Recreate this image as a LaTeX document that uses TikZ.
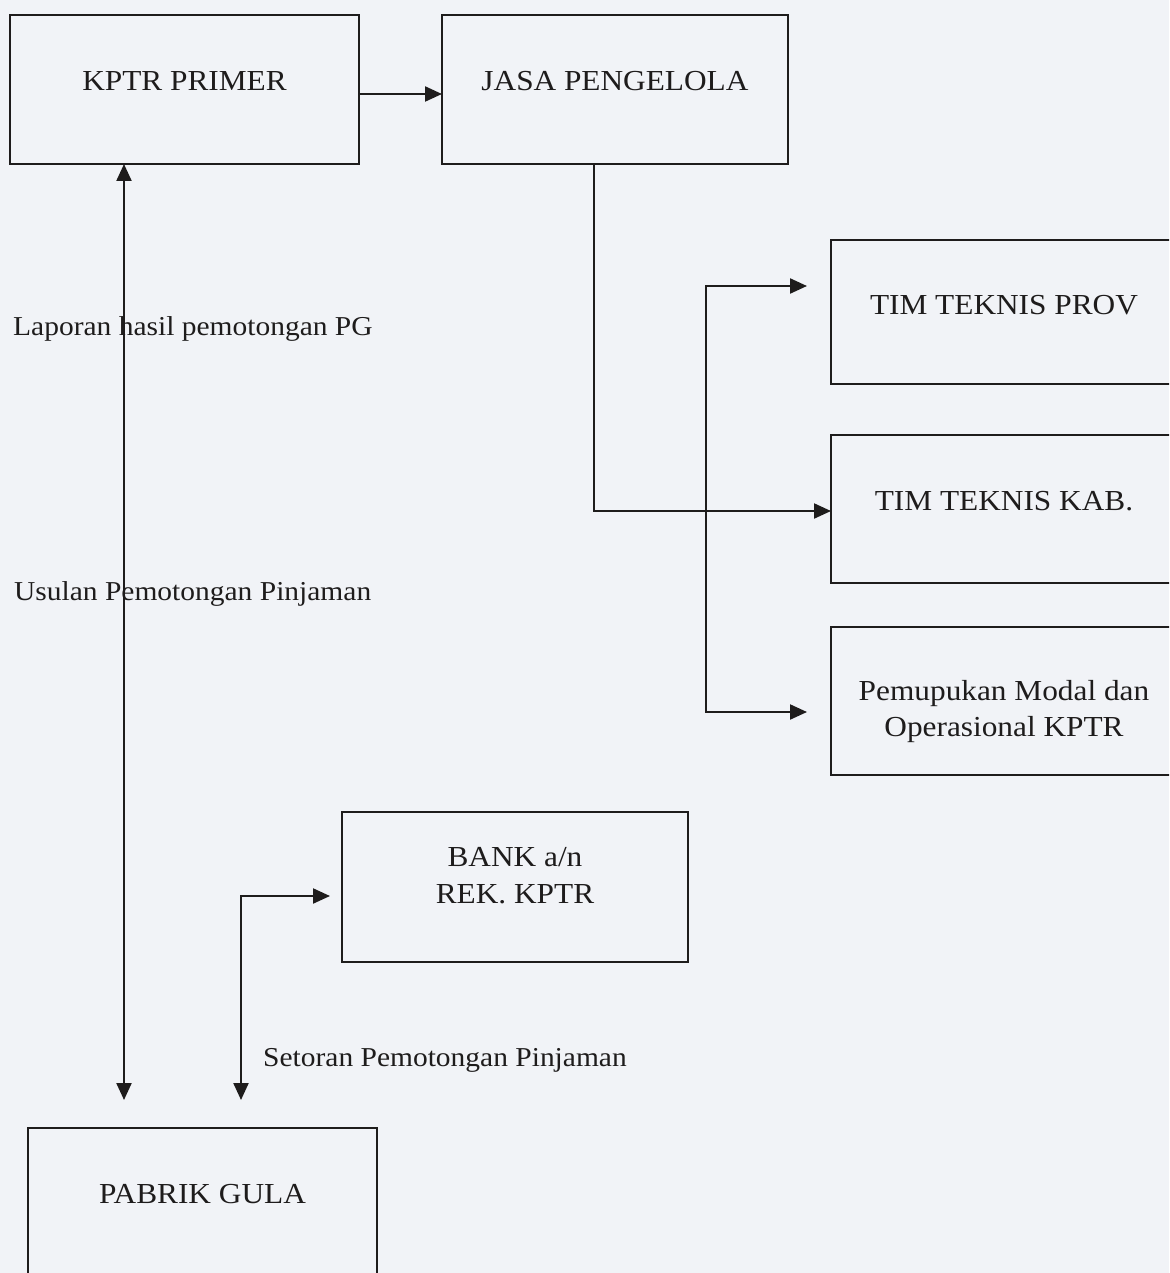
\documentclass[tikz,border=0pt]{standalone}
\usepackage{fontspec}
\setmainfont{Liberation Serif}[FakeStretch=1.08]
\usetikzlibrary{arrows.meta}
\definecolor{paper}{RGB}{241,243,247}
\definecolor{ink}{RGB}{30,28,28}
\tikzset{
  box/.style={draw=ink, line width=2.2pt, rectangle, inner sep=0pt, outer sep=0pt, anchor=north west},
  boxtxt/.style={anchor=base, inner sep=0pt, text=ink, font=\fontsize{29}{35}\selectfont},
  lbl/.style={anchor=base west, inner sep=0pt, text=ink, font=\fontsize{27.3}{33}\selectfont},
  conn/.style={draw=ink, line width=2.2pt},
  tip/.style={-{Triangle[length=17pt,width=15pt]}},
  tips/.style={{Triangle[length=17pt,width=15pt]}-{Triangle[length=17pt,width=15pt]}}
}
\begin{document}
\begin{tikzpicture}[x=1pt,y=-1pt]
\useasboundingbox (0,0) rectangle (1169,1273);
\clip (0,0) rectangle (1169,1273);
\fill[paper] (0,0) rectangle (1169,1273);

% boxes
\node[box, minimum width=349pt, minimum height=149pt] (kptr) at (10,15) {};
\node[box, minimum width=346pt, minimum height=149pt] (jasa) at (442,15) {};
\node[box, minimum width=346pt, minimum height=144pt] (prov) at (831,240) {};
\node[box, minimum width=346pt, minimum height=148pt] (kab) at (831,435) {};
\node[box, minimum width=346pt, minimum height=148pt] (modal) at (831,627) {};
\node[box, minimum width=346pt, minimum height=150pt] (bank) at (342,812) {};
\node[box, minimum width=349pt, minimum height=150pt] (pg) at (28,1128) {};

% box texts
\node[boxtxt] (tkptr) at ([yshift=-76pt]kptr.north) {KPTR PRIMER};
\node[boxtxt] (tjasa) at ([yshift=-76pt]jasa.north) {JASA PENGELOLA};
\node[boxtxt] (tprov) at ([yshift=-74pt]prov.north) {TIM TEKNIS PROV};
\node[boxtxt] (tkab) at ([yshift=-75pt]kab.north) {TIM TEKNIS KAB.};
\node[boxtxt] (tmodal1) at ([yshift=-73pt]modal.north) {Pemupukan Modal dan};
\node[boxtxt] (tmodal2) at ([yshift=-109pt]modal.north) {Operasional KPTR};
\node[boxtxt] (tbank1) at ([yshift=-54pt]bank.north) {BANK a/n};
\node[boxtxt] (tbank2) at ([yshift=-91pt]bank.north) {REK. KPTR};
\node[boxtxt] (tpg) at ([yshift=-75pt]pg.north) {PABRIK GULA};

% connector points
\coordinate (brA) at (706,286);
\coordinate (brB) at (706,712);
\coordinate (provtip) at (807,286);
\coordinate (modaltip) at (807,712);
\coordinate (pgA) at (124,1100);
\coordinate (stA) at (241,1100);
\coordinate (stB) at (330,896);

% connectors
\draw[conn, tip] ([yshift=-4.5pt]kptr.east) -- ([yshift=-4.5pt]jasa.west);
\draw[conn, tip] ([xshift=-21pt]jasa.south) |- ([yshift=-2pt]kab.west);
\draw[conn, tips] (provtip) -- (brA) -- (brB) -- (modaltip);
\draw[conn, tips] (kptr.south -| pgA) -- (pgA);
\draw[conn, tips] (stA) |- (stB);

% labels
\node[lbl] (l1) at (13,335) {Laporan hasil pemotongan PG};
\node[lbl] (l2) at (14,600) {Usulan Pemotongan Pinjaman};
\node[lbl] (l3) at (263,1066) {Setoran Pemotongan Pinjaman};
\end{tikzpicture}
\end{document}
